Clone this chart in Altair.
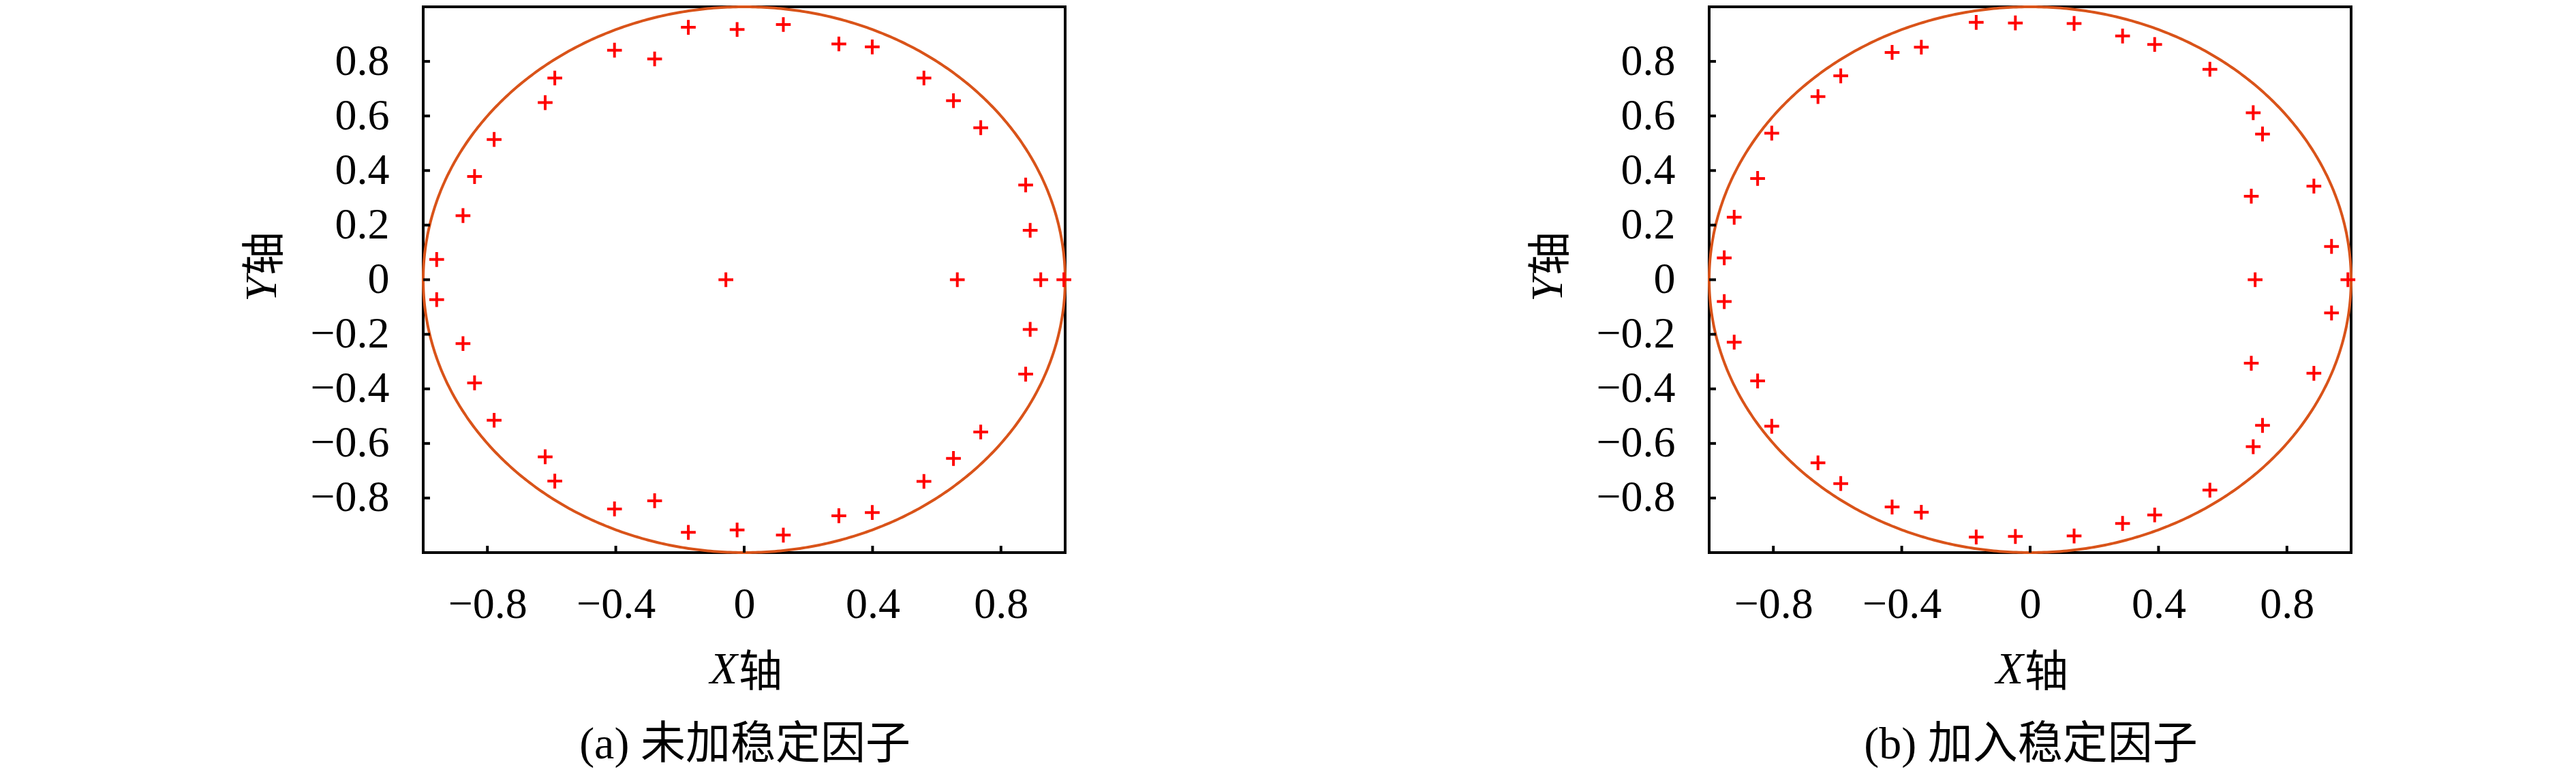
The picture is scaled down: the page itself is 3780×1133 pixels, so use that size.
import altair as alt
import numpy as np
import pandas as pd

# ---------------- data ----------------
# panel (a): 未加稳定因子
a_x = [-0.958, -0.876, -0.840, -0.779, -0.620, -0.590, -0.404, -0.279, -0.174, -0.022,
       0.122, 0.295, 0.399, 0.560, 0.652, 0.737, 0.877, 0.891,
       -0.057, 0.664, 0.924, 0.996,
       -0.958, -0.876, -0.840, -0.779, -0.620, -0.590, -0.404, -0.279, -0.174, -0.022,
       0.122, 0.295, 0.399, 0.560, 0.652, 0.737, 0.877, 0.891]
a_y = [0.074, 0.235, 0.378, 0.514, 0.649, 0.739, 0.841, 0.809, 0.925, 0.917,
       0.935, 0.864, 0.853, 0.739, 0.656, 0.557, 0.347, 0.181,
       0.0, 0.0, 0.0, 0.0,
       -0.073, -0.234, -0.378, -0.515, -0.649, -0.738, -0.840, -0.810, -0.926, -0.917,
       -0.936, -0.865, -0.853, -0.739, -0.655, -0.558, -0.346, -0.182]

# panel (b): 加入稳定因子
b_x = [-0.953, -0.922, -0.849, -0.805, -0.661, -0.590, -0.430, -0.339, -0.168, -0.046,
       0.137, 0.288, 0.388, 0.560, 0.695, 0.724, 0.689, 0.884, 0.939,
       0.701, 0.990,
       -0.953, -0.922, -0.849, -0.805, -0.661, -0.590, -0.430, -0.339, -0.168, -0.046,
       0.137, 0.288, 0.388, 0.560, 0.695, 0.724, 0.689, 0.884, 0.939]
b_y = [0.080, 0.229, 0.371, 0.537, 0.671, 0.747, 0.833, 0.852, 0.943, 0.941,
       0.939, 0.893, 0.862, 0.771, 0.612, 0.534, 0.306, 0.343, 0.122,
       0.0, 0.0,
       -0.080, -0.229, -0.371, -0.537, -0.671, -0.747, -0.833, -0.852, -0.943, -0.941,
       -0.939, -0.893, -0.862, -0.771, -0.612, -0.534, -0.306, -0.343, -0.122]

x_ticks = [-0.8, -0.4, 0, 0.4, 0.8]
y_ticks = [-0.8, -0.6, -0.4, -0.2, 0, 0.2, 0.4, 0.6, 0.8]

captions = ["(a) 未加稳定因子", "(b) 加入稳定因子"]

# unit circle reference curve
theta = np.linspace(0, 2 * np.pi, 721)
circle = pd.DataFrame({"x": np.cos(theta), "y": np.sin(theta), "i": np.arange(721)})

W, H = 942, 801
SERIF = "Liberation Serif"
MIXED = "'Liberation Serif', 'Noto Sans CJK SC'"
CJK = "Noto Sans CJK SC"
FS = 64
PLUS = "M -1 0 L 1 0 M 0 -1 L 0 1"


def panel(xs, ys, caption):
    xsc = alt.Scale(domain=[-1, 1], nice=False, zero=False)
    ysc = alt.Scale(domain=[-1, 1], nice=False, zero=False)
    xax = alt.Axis(values=x_ticks, title=None, ticks=False, domain=False, grid=False,
                   format=".1~f",
                   labelFont=SERIF, labelFontSize=FS, labelPadding=44, labelColor="black")
    yax = alt.Axis(values=y_ticks, title=None, ticks=False, domain=False, grid=False,
                   format=".1~f",
                   labelFont=SERIF, labelFontSize=FS, labelPadding=50, labelColor="black")

    def X(f):
        return alt.X(f, scale=xsc, axis=xax)

    def Y(f):
        return alt.Y(f, scale=ysc, axis=yax)

    one = pd.DataFrame({"k": [0]})

    line = alt.Chart(circle).mark_line(color="#D95319", strokeWidth=4).encode(
        x=X("x:Q"), y=Y("y:Q"), order="i:Q")
    pts = alt.Chart(pd.DataFrame({"x": xs, "y": ys})).mark_point(
        shape=PLUS, filled=False, color="#FF0000", strokeWidth=4, size=470, opacity=1
    ).encode(x=X("x:Q"), y=Y("y:Q"))
    xt = alt.Chart(pd.DataFrame({"v": x_ticks})).mark_rule(color="black", strokeWidth=4).encode(
        x=X("v:Q"), y=alt.value(H), y2=alt.value(H - 10))
    yt = alt.Chart(pd.DataFrame({"v": y_ticks})).mark_rule(color="black", strokeWidth=4).encode(
        y=Y("v:Q"), x=alt.value(0), x2=alt.value(10))

    xt1 = alt.Chart(one).mark_text(text="X", font=SERIF, fontStyle="italic", fontSize=66,
                                   align="right", baseline="alphabetic").encode(
        x=alt.value(W / 2 - 10), y=alt.value(H + 192))
    xt2 = alt.Chart(one).mark_text(text="轴", font=CJK, fontSize=64,
                                   align="left", baseline="alphabetic").encode(
        x=alt.value(W / 2 - 8), y=alt.value(H + 196))
    yt1 = alt.Chart(one).mark_text(text="Y", font=SERIF, fontStyle="italic", fontSize=66,
                                   align="right", baseline="alphabetic", angle=270).encode(
        x=alt.value(-216), y=alt.value(396))
    yt2 = alt.Chart(one).mark_text(text="轴", font=CJK, fontSize=64,
                                   align="left", baseline="alphabetic", angle=270).encode(
        x=alt.value(-212), y=alt.value(394))
    cap = alt.Chart(one).mark_text(text=caption, font=MIXED, fontSize=66,
                                   align="center", baseline="alphabetic").encode(
        x=alt.value(W / 2 + 1), y=alt.value(H + 302))

    return alt.layer(line, pts, xt, yt, xt1, xt2, yt1, yt2, cap).properties(width=W, height=H)


chart = alt.hconcat(
    panel(a_x, a_y, captions[0]),
    panel(b_x, b_y, captions[1]),
    spacing=655,
).properties(
    padding={"left": 342, "top": -8, "right": 0, "bottom": 0},
    background="white",
).configure_view(
    stroke="black", strokeWidth=4
)

chart.save("out.html", embed_options={"renderer": "svg", "actions": False})
